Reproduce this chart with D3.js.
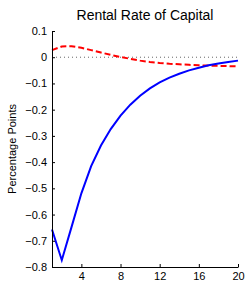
<!DOCTYPE html>
<html><head><meta charset="utf-8">
<script src="https://cdn.jsdelivr.net/npm/d3@7"></script>
<style>body{margin:0;background:#fff}svg{display:block}</style>
</head><body>
<script>
const periods = d3.range(1, 21);
const blueSeries = [-0.657,-0.774,-0.647,-0.519,-0.415,-0.337,-0.274,-0.223,-0.181,-0.147,-0.119,-0.096,-0.078,-0.063,-0.050,-0.040,-0.031,-0.024,-0.018,-0.013];
const redSeries = [0.027,0.041,0.042,0.036,0.027,0.018,0.009,0.001,-0.006,-0.013,-0.018,-0.022,-0.025,-0.027,-0.029,-0.031,-0.032,-0.033,-0.034,-0.035];
const xTicks = [4,8,12,16,20];
const yTicks = [0.1,0,-0.1,-0.2,-0.3,-0.4,-0.5,-0.6,-0.7,-0.8];
const title = "Rental Rate of Capital";
const yLabel = "Percentage Points";

const W = 246, H = 282;
const svg = d3.select("body").append("svg").attr("width", W).attr("height", H);
const x = d3.scaleLinear().domain([1,20]).range([52,238]);
const y = d3.scaleLinear().domain([-0.8,0.1]).range([267,31]);
const font = "Liberation Sans, Arial, Helvetica, sans-serif";

svg.append("text").attr("x", 145).attr("y", 20).attr("text-anchor","middle")
  .attr("font-family", font).attr("font-size", 14).attr("fill","#000").text(title);

// zero line
svg.append("line").attr("x1", x(1)).attr("x2", x(20)).attr("y1", y(0)).attr("y2", y(0))
  .attr("stroke","#666").attr("stroke-width",1).attr("stroke-dasharray","1,3");

const line = d3.line().x((d,i)=>x(periods[i])).y(d=>y(d));
svg.append("path").datum(redSeries).attr("d", line).attr("fill","none")
  .attr("stroke","#ff0000").attr("stroke-width",2).attr("stroke-dasharray","6,3");
svg.append("path").datum(blueSeries).attr("d", line).attr("fill","none")
  .attr("stroke","#0000ff").attr("stroke-width",2);

const fmt = d => d3.format(".1f")(d).replace("-", "\u2212");
const yAxis = svg.append("g").attr("transform", `translate(${x(1)},0)`)
  .call(d3.axisLeft(y).tickValues(yTicks).tickSizeInner(-3).tickSizeOuter(0).tickPadding(5)
    .tickFormat(d => d === 0 ? "0" : fmt(d)));
const xAxis = svg.append("g").attr("transform", `translate(0,${y(-0.8)})`)
  .call(d3.axisBottom(x).tickValues(xTicks).tickSizeInner(-3).tickSizeOuter(0).tickPadding(5)
    .tickFormat(d3.format("d")));
[yAxis, xAxis].forEach(g => {
  g.selectAll("text").attr("font-family", font).attr("font-size", 11).attr("fill","#000");
  g.select(".domain").attr("stroke","#000");
  g.selectAll(".tick line").attr("stroke","#000");
});
xAxis.selectAll("text").attr("dy", "0.71em");

svg.append("text").attr("transform", `translate(16,149) rotate(-90)`).attr("text-anchor","middle")
  .attr("font-family", font).attr("font-size", 11).attr("fill","#000").text(yLabel);
</script>
</body></html>
